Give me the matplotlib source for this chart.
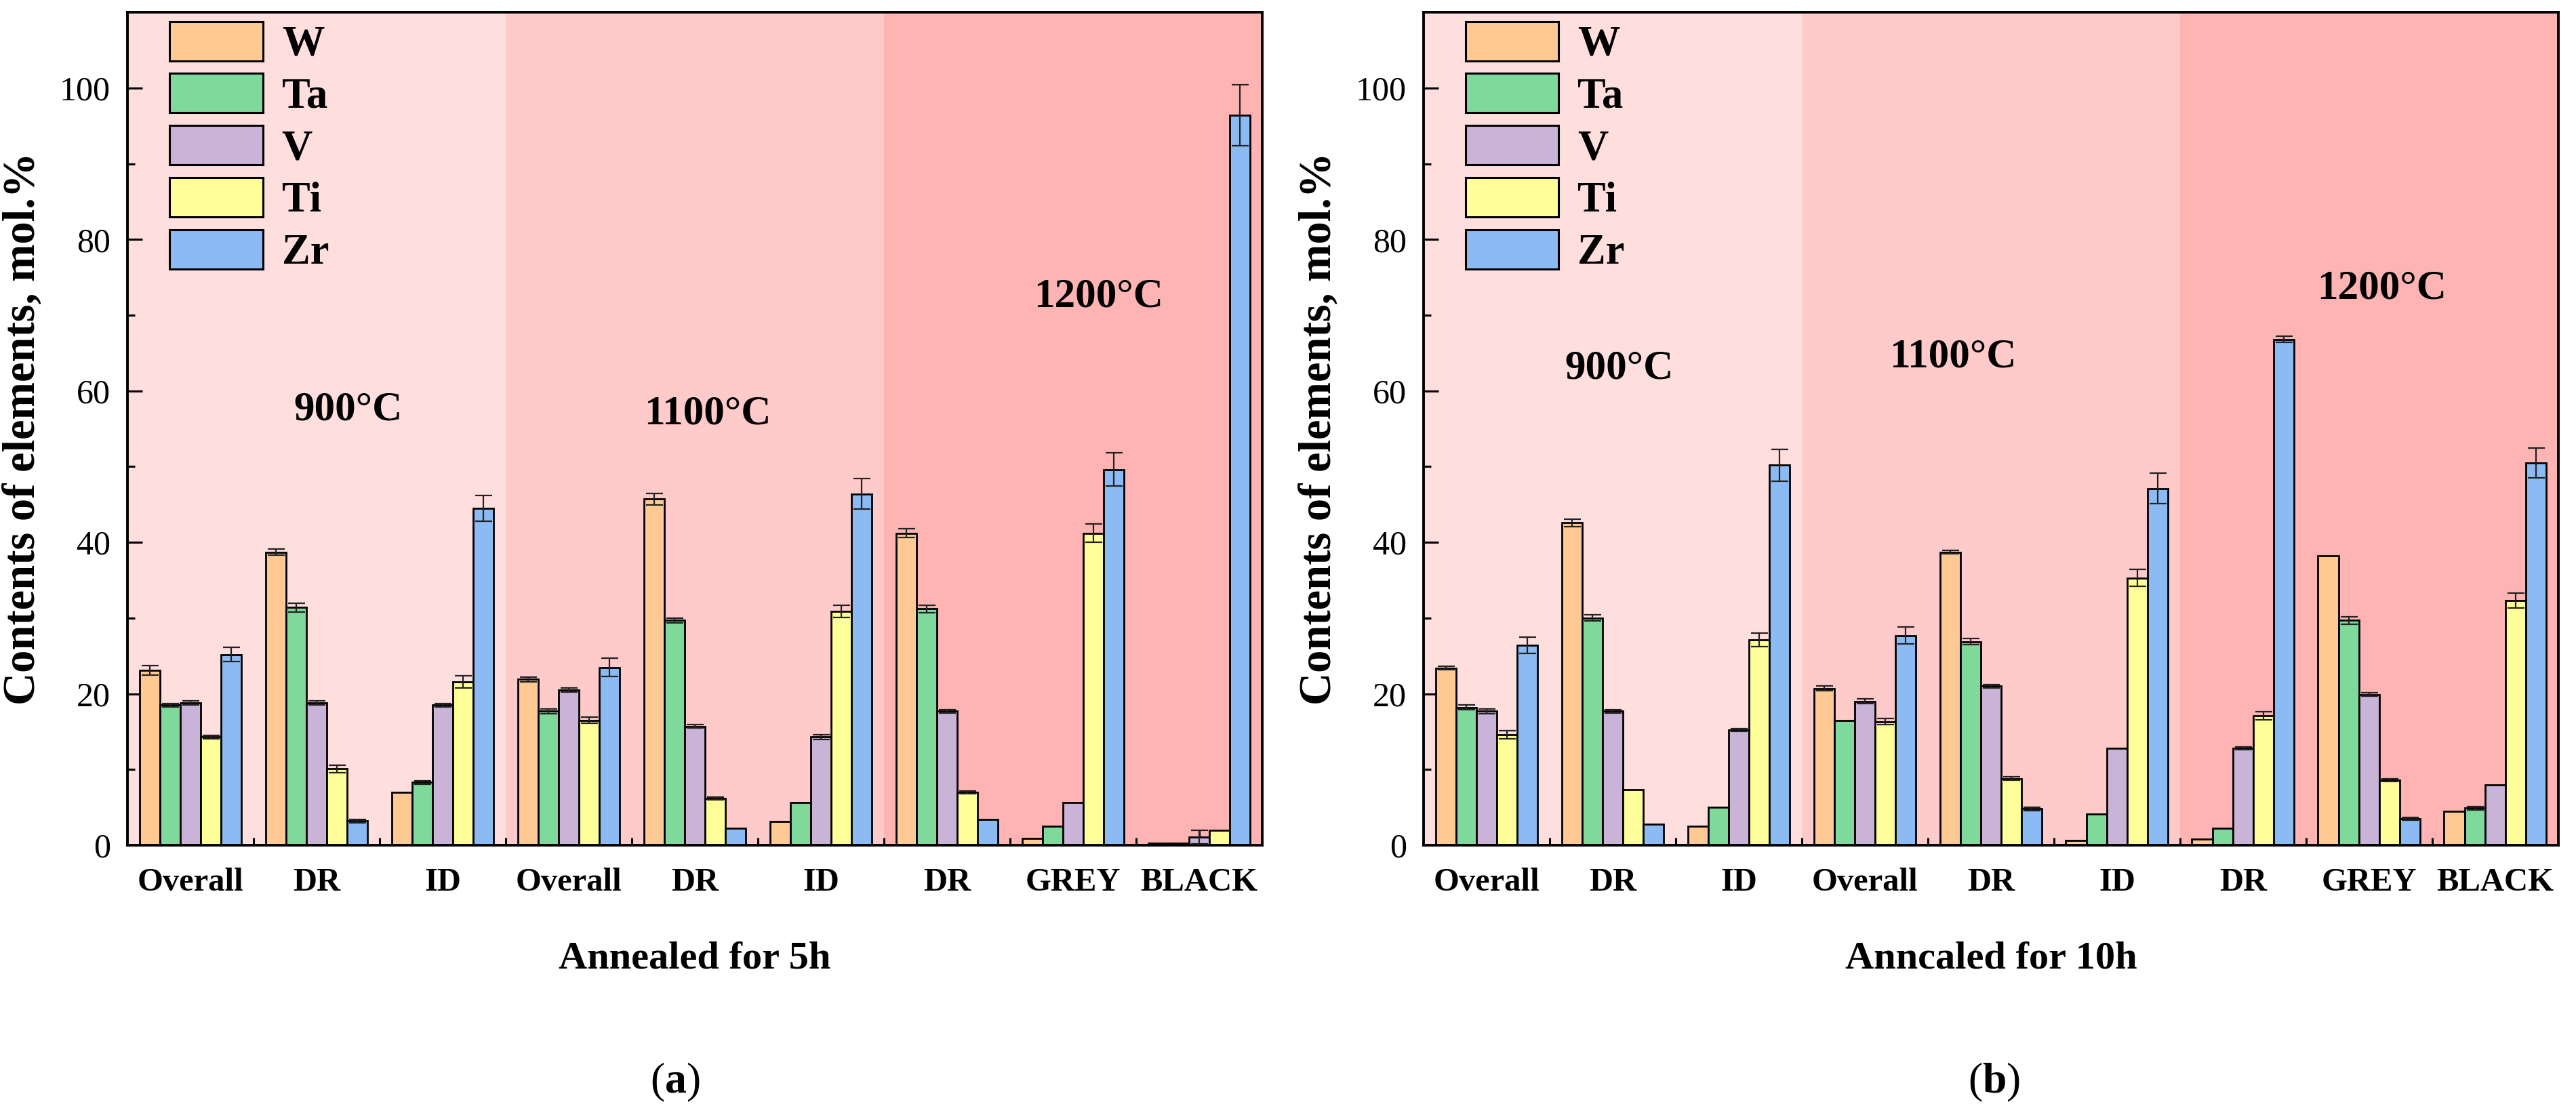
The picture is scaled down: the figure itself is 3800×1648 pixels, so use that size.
import numpy as np
import matplotlib.pyplot as plt
from matplotlib.patches import Patch

plt.rcParams['font.family'] = ['Liberation Serif', 'DejaVu Serif']
plt.rcParams['mathtext.fontset'] = 'custom'
plt.rcParams['mathtext.rm'] = 'Liberation Serif'
plt.rcParams['mathtext.bf'] = 'Liberation Serif:bold'

# categories (same for both panels)
categories = ['Overall', 'DR', 'ID', 'Overall', 'DR', 'ID', 'DR', 'GREY', 'BLACK']
elements = ['W', 'Ta', 'V', 'Ti', 'Zr']
colors = ['#FFC994', '#7FD99B', '#C9B3D6', '#FFFF9A', '#8CBBF3']

# annealed for 5 h
W_5h = [23.1, 38.7, 7.0, 21.9, 45.7, 3.1, 41.2, 0.9, 0.3]
Ta_5h = [18.5, 31.4, 8.3, 17.7, 29.7, 5.6, 31.2, 2.5, 0.3]
V_5h = [18.8, 18.8, 18.5, 20.5, 15.7, 14.3, 17.7, 5.6, 1.1]
Ti_5h = [14.3, 10.1, 21.6, 16.5, 6.2, 30.9, 7.0, 41.2, 2.0]
Zr_5h = [25.2, 3.2, 44.5, 23.5, 2.2, 46.4, 3.4, 49.6, 96.4]
W_5h_err = [0.6, 0.4, 0.0, 0.3, 0.8, 0.0, 0.6, 0.0, 0.0]
Ta_5h_err = [0.2, 0.6, 0.2, 0.3, 0.3, 0.0, 0.5, 0.0, 0.0]
V_5h_err = [0.3, 0.3, 0.2, 0.3, 0.2, 0.3, 0.2, 0.0, 0.9]
Ti_5h_err = [0.2, 0.5, 0.8, 0.4, 0.2, 0.8, 0.2, 1.2, 0.0]
Zr_5h_err = [0.9, 0.2, 1.7, 1.2, 0.0, 2.0, 0.0, 2.2, 4.0]

# annealed for 10 h
W_10h = [23.4, 42.6, 2.5, 20.7, 38.7, 0.6, 0.8, 38.2, 4.5]
Ta_10h = [18.2, 30.0, 5.0, 16.5, 26.9, 4.1, 2.2, 29.7, 4.9]
V_10h = [17.7, 17.7, 15.2, 19.0, 21.0, 12.8, 12.8, 19.9, 8.0]
Ti_10h = [14.6, 7.3, 27.1, 16.3, 8.8, 35.3, 17.1, 8.6, 32.3]
Zr_10h = [26.4, 2.8, 50.2, 27.7, 4.8, 47.1, 66.8, 3.5, 50.5]
W_10h_err = [0.2, 0.5, 0.0, 0.3, 0.2, 0.0, 0.0, 0.0, 0.0]
Ta_10h_err = [0.3, 0.4, 0.0, 0.0, 0.4, 0.0, 0.0, 0.5, 0.2]
V_10h_err = [0.3, 0.2, 0.2, 0.3, 0.2, 0.0, 0.2, 0.2, 0.0]
Ti_10h_err = [0.5, 0.0, 0.9, 0.4, 0.2, 1.1, 0.5, 0.2, 1.0]
Zr_10h_err = [1.1, 0.0, 2.1, 1.1, 0.2, 2.0, 0.4, 0.2, 2.0]

temps = ['900°C', '1100°C', '1200°C']
band_colors = ['#FFDEDE', '#FFCACA', '#FFB4B4']


def draw_panel(ax, values, errors, xlabel, temp_pos):
    x = np.arange(len(categories))
    w = 0.162
    # temperature bands
    for i, c in enumerate(band_colors):
        ax.axvspan(-0.5 + 3 * i, 2.5 + 3 * i, color=c, zorder=0, lw=0)
    for i, (vals, errs) in enumerate(zip(values, errors)):
        xs = x + (i - 2) * w
        ax.bar(xs, vals, w, color=colors[i], edgecolor='black', linewidth=2.0, zorder=2)
        errs = np.array(errs)
        m = errs > 0
        ax.errorbar(xs[m], np.array(vals)[m], yerr=errs[m], fmt='none', ecolor='#222222',
                    elinewidth=1.6, capsize=9, capthick=1.6, zorder=3)
    for t, (tx, ty) in zip(temps, temp_pos):
        ax.text(tx, ty, t, fontsize=44, fontweight='bold', ha='center', va='center', zorder=4)

    ax.set_xlim(-0.5, len(categories) - 0.5)
    ax.set_ylim(0, 110)
    ax.set_xticks(x)
    ax.set_xticklabels(categories, fontsize=35, fontweight='bold')
    ax.set_xticks(np.arange(0.5, len(categories) - 1, 1.0), minor=True)
    ax.set_yticks([0, 20, 40, 60, 80, 100])
    ax.set_yticks(np.arange(10, 110, 20), minor=True)
    ax.tick_params(axis='both', which='major', direction='in', length=16, width=2.2)
    ax.tick_params(axis='both', which='minor', direction='in', length=8, width=2.2)
    ax.tick_params(axis='x', which='major', pad=24)
    ax.tick_params(axis='y', which='major', labelsize=36, pad=18)
    for s in ax.spines.values():
        s.set_linewidth(2.8)

    ax.set_ylabel('Contents of elements, mol.%', fontsize=48, fontweight='bold')
    ax.yaxis.set_label_coords(-0.074, 0.5)
    ax.set_xlabel(xlabel, fontsize=42, fontweight='bold', va='top')
    ax.xaxis.set_label_coords(0.5, -0.115)

    handles = [Patch(facecolor=c, edgecolor='black', linewidth=2.2) for c in colors]
    ax.legend(handles, elements, loc='upper left', bbox_to_anchor=(0.037, 0.989),
              frameon=False, prop={'weight': 'bold', 'size': 45},
              handlelength=2.2, handleheight=1.05, labelspacing=0.2,
              handletextpad=0.45, borderpad=0, borderaxespad=0)


fig = plt.figure(figsize=(38, 16.48), dpi=100)
ax1 = fig.add_axes([0.0495, 0.2433, 0.4405, 0.7457])
ax2 = fig.add_axes([0.5526, 0.2433, 0.4405, 0.7457])

draw_panel(ax1, [W_5h, Ta_5h, V_5h, Ti_5h, Zr_5h],
           [W_5h_err, Ta_5h_err, V_5h_err, Ti_5h_err, Zr_5h_err],
           'Annealed for 5h', [(1.25, 57.5), (4.1, 57.0), (7.2, 72.5)])
draw_panel(ax2, [W_10h, Ta_10h, V_10h, Ti_10h, Zr_10h],
           [W_10h_err, Ta_10h_err, V_10h_err, Ti_10h_err, Zr_10h_err],
           'Anncaled for 10h', [(1.05, 63.0), (3.7, 64.5), (7.1, 73.5)])

fig.text(0.262, 0.031, r'($\mathbf{a}$)', fontsize=46, ha='center', va='center')
fig.text(0.774, 0.031, r'($\mathbf{b}$)', fontsize=46, ha='center', va='center')

fig.savefig('out.png', dpi=100, facecolor='white')
